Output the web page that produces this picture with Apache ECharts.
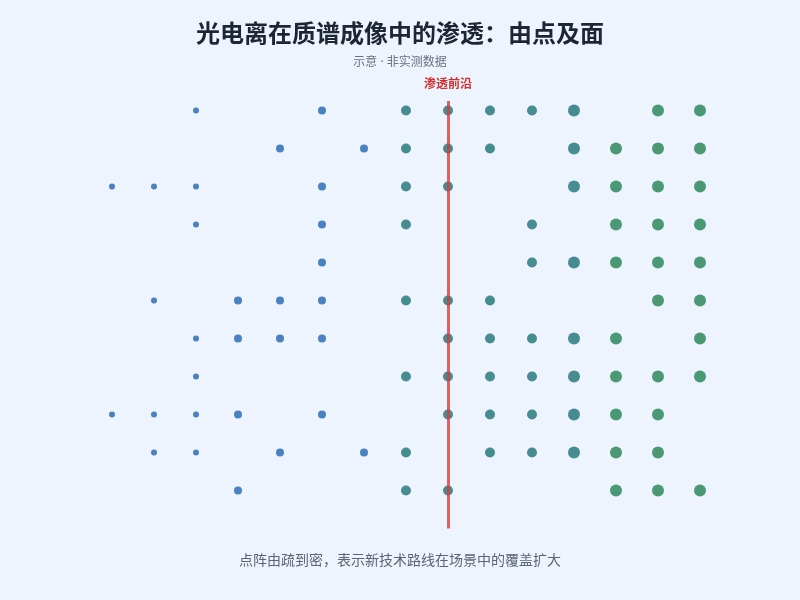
<!DOCTYPE html>
<html>
<head>
<meta charset="utf-8">
<script src="https://cdn.jsdelivr.net/npm/echarts@6/dist/echarts.min.js"></script>
<style>
html,body{margin:0;padding:0;background:#EDF4FD;}
#c{width:800px;height:600px;}
</style>
</head>
<body>
<div id="c"></div>
<script>
// Column indices (0..14) of the dots present in each row (top to bottom)
const row0 = [2, 5, 7, 8, 9, 10, 11, 13, 14];
const row1 = [4, 6, 7, 8, 9, 11, 12, 13, 14];
const row2 = [0, 1, 2, 5, 7, 8, 11, 12, 13, 14];
const row3 = [2, 5, 7, 10, 12, 13, 14];
const row4 = [5, 10, 11, 12, 13, 14];
const row5 = [1, 3, 4, 5, 7, 8, 9, 13, 14];
const row6 = [2, 3, 4, 5, 8, 9, 10, 11, 12, 14];
const row7 = [2, 7, 8, 9, 10, 11, 12, 13, 14];
const row8 = [0, 1, 2, 3, 5, 8, 9, 10, 11, 12, 13];
const row9 = [1, 2, 4, 6, 7, 9, 10, 11, 12, 13];
const row10 = [3, 7, 8, 12, 13, 14];
const rows = [row0, row1, row2, row3, row4, row5, row6, row7, row8, row9, row10];
const frontColumn = 8;
const frontLabel = '渗透前沿';
const titleText = '光电离在质谱成像中的渗透：由点及面';
const subtitleText = '示意 · 非实测数据';
const footerText = '点阵由疏到密，表示新技术路线在场景中的覆盖扩大';

// styles (per column stage)
const colSize = [6,6,6,8,8,8,8,10,10,10,10,12,12,12,12];
const colColor = ['#4A81C0','#4A81C0','#4A81C0','#4A81C0','#4A81C0','#4A81C0','#4A81C0',
  '#468C91','#468C91','#468C91','#468C91','#468C91','#4A9974','#4A9974','#4A9974'];

const data = [];
rows.forEach((cols, r) => cols.forEach(c => data.push({
  value: [c, r],
  symbolSize: colSize[c],
  itemStyle: { color: colColor[c], opacity: 1 }
})));

const font = '"Noto Sans CJK SC", "Noto Sans", sans-serif';
const latinFirst = '"Noto Sans", "Noto Sans CJK SC", sans-serif';
const chart = echarts.init(document.getElementById('c'));
chart.setOption({
  backgroundColor: '#EDF4FD',
  animation: false,
  title: [
    { text: titleText, left: 'center', top: 16,
      textStyle: { fontSize: 24, fontWeight: 'bold', color: '#1E2533', fontFamily: font } },
    { text: subtitleText, left: 'center', top: 52,
      textStyle: { fontSize: 12, fontWeight: 'normal', color: '#6B7280', fontFamily: latinFirst } },
    { text: footerText, left: 'center', top: 548,
      textStyle: { fontSize: 14, fontWeight: 'normal', color: '#5B6472', fontFamily: font } }
  ],
  grid: { left: 112, width: 588, top: 101, height: 427.5 },
  xAxis: { type: 'value', min: 0, max: 14, show: false },
  yAxis: { type: 'value', min: -0.25, max: 11, inverse: true, show: false },
  series: [
    { type: 'scatter', data: data, symbol: 'circle', z: 2, itemStyle: { opacity: 1 } },
    { type: 'scatter', data: [], z: 5,
      markLine: {
        silent: true, symbol: 'none',
        lineStyle: { color: 'rgba(214,60,60,0.8)', width: 3, type: 'solid' },
        label: { show: true, position: 'start', formatter: frontLabel, distance: 12,
          color: '#D0302F', fontSize: 12, fontWeight: 'bold', fontFamily: font },
        data: [[{ coord: [frontColumn, -0.25] }, { coord: [frontColumn, 11] }]]
      }
    }
  ]
});
</script>
</body>
</html>
